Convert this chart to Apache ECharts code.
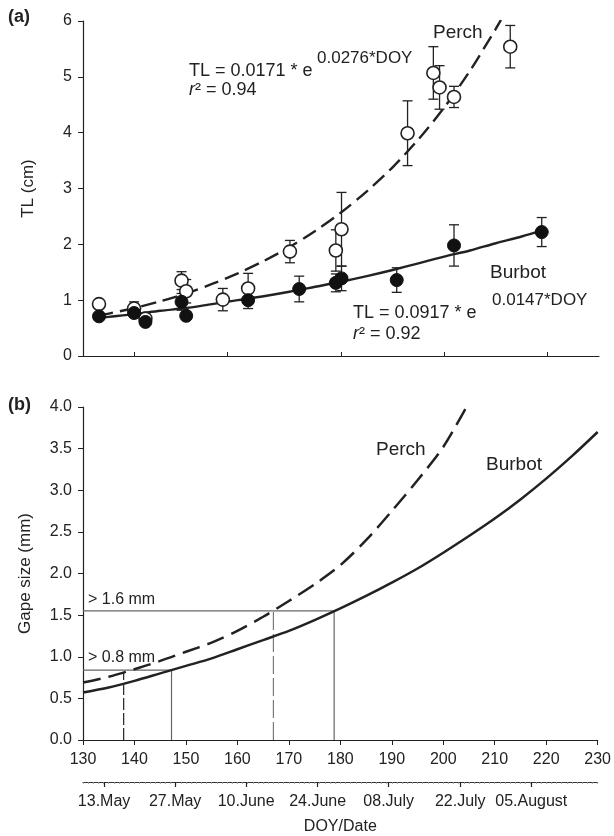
<!DOCTYPE html>
<html>
<head>
<meta charset="utf-8">
<script src="https://cdn.jsdelivr.net/npm/echarts@6/dist/echarts.min.js"></script>
<style>
  html, body { margin: 0; padding: 0; background: #fff; }
  #chart { width: 614px; height: 836px; }
</style>
</head>
<body>
<div id="chart"></div>
<script>
// panel (a): measured TL of juveniles (mean and error)
var perchDoy = [133.1, 139.9, 142.1, 149.1, 150.0, 157.1, 162.0, 170.1, 179.0, 180.1, 192.9, 197.9, 199.1, 201.9, 212.8];
var perchTL  = [0.93, 0.85, 0.67, 1.35, 1.16, 1.01, 1.21, 1.87, 1.89, 2.27, 3.99, 5.07, 4.81, 4.64, 5.54];
var perchErr = [0.05, 0.12, 0.07, 0.16, 0.21, 0.20, 0.27, 0.20, 0.37, 0.66, 0.58, 0.47, 0.39, 0.19, 0.38];

var burbotDoy = [133.1, 139.9, 142.1, 149.1, 150.0, 162.0, 171.9, 179.0, 180.1, 190.8, 201.9, 218.9];
var burbotTL  = [0.71, 0.77, 0.61, 0.97, 0.72, 1.00, 1.20, 1.31, 1.39, 1.36, 1.98, 2.22];
var burbotErr = [0.05, 0.07, 0.06, 0.15, 0.06, 0.15, 0.23, 0.16, 0.22, 0.22, 0.37, 0.26];

// panel (a): fitted curves
var perchFitDoy = [133, 135, 140, 145, 150, 155, 160, 165, 170, 175, 180, 185, 190, 195, 200, 205, 210, 211];
var perchFitTL  = [0.72, 0.76, 0.86, 0.98, 1.12, 1.29, 1.48, 1.70, 1.95, 2.24, 2.57, 2.95, 3.38, 3.88, 4.45, 5.11, 5.86, 6.02];
var burbotFitDoy = [133, 135, 140, 145, 150, 155, 160, 165, 170, 175, 180, 185, 190, 195, 200, 205, 210, 215, 219];
var burbotFitTL  = [0.68, 0.70, 0.75, 0.81, 0.86, 0.93, 1.00, 1.07, 1.15, 1.24, 1.33, 1.43, 1.54, 1.66, 1.78, 1.89, 2.02, 2.14, 2.25];

// panel (b): gape size curves
var perchGapeDoy = [130, 135, 140, 145, 150, 155, 160, 165, 170, 175, 180, 185, 190, 195, 200, 204.5];
var perchGape    = [0.69, 0.76, 0.85, 0.95, 1.06, 1.17, 1.31, 1.48, 1.67, 1.87, 2.10, 2.40, 2.75, 3.12, 3.52, 4.00];
var burbotGapeDoy = [130, 135, 140, 145, 150, 155, 160, 165, 170, 175, 180, 185, 190, 195, 200, 205, 210, 215, 220, 225, 230];
var burbotGape    = [0.57, 0.63, 0.71, 0.80, 0.89, 0.98, 1.09, 1.20, 1.31, 1.44, 1.58, 1.73, 1.89, 2.06, 2.25, 2.45, 2.66, 2.89, 3.14, 3.41, 3.70];

// prey size limits and the days each species reaches them
var gapeLimits = [0.84, 1.55];
var perchLimitDoy = [137.9, 167.0];
var burbotLimitDoy = [147.2, 178.8];

// tick labels
var topTicks = [140, 158, 180, 200, 220];
var dateTicks = [134.1, 147.9, 161.7, 175.6, 189.4, 203.3, 217.1];
var dateLabels = ['13.May', '27.May', '10.June', '24.June', '08.July', '22.July', '05.August'];

function zip(xs, ys) {
  var out = [];
  for (var i = 0; i < xs.length; i++) out.push([xs[i], ys[i]]);
  return out;
}
function errData(xs, ys, es) {
  var out = [];
  for (var i = 0; i < xs.length; i++) out.push([xs[i], ys[i], ys[i] - es[i], ys[i] + es[i]]);
  return out;
}
function renderErr(params, api) {
  var lo = api.coord([api.value(0), api.value(2)]);
  var hi = api.coord([api.value(0), api.value(3)]);
  var w = 5;
  var st = { stroke: '#222', lineWidth: 1.3 };
  return {
    type: 'group',
    children: [
      { type: 'line', shape: { x1: lo[0], y1: lo[1], x2: hi[0], y2: hi[1] }, style: st },
      { type: 'line', shape: { x1: lo[0] - w, y1: lo[1], x2: lo[0] + w, y2: lo[1] }, style: st },
      { type: 'line', shape: { x1: hi[0] - w, y1: hi[1], x2: hi[0] + w, y2: hi[1] }, style: st }
    ]
  };
}
function refLine(name, pts, color, type) {
  return {
    name: name, type: 'line', xAxisIndex: 1, yAxisIndex: 1,
    data: pts, symbol: 'none', silent: true, z: 1,
    lineStyle: { color: color, width: 1.2, type: type }
  };
}

var FONT = '"Liberation Sans", Arial, sans-serif';
var ink = '#222';
var chart = echarts.init(document.getElementById('chart'));

var axisBase = {
  axisLine: { lineStyle: { color: ink, width: 1.2 } },
  splitLine: { show: false },
  axisLabel: { color: ink, fontSize: 16, fontFamily: FONT }
};

var series = [
  // (a) fitted curves
  { name: 'Perch fit', type: 'line', xAxisIndex: 0, yAxisIndex: 0, data: zip(perchFitDoy, perchFitTL),
    symbol: 'none', smooth: 0.3, z: 1, lineStyle: { color: ink, width: 2.4, type: [15, 7] } },
  { name: 'Burbot fit', type: 'line', xAxisIndex: 0, yAxisIndex: 0, data: zip(burbotFitDoy, burbotFitTL),
    symbol: 'none', smooth: 0.3, z: 1, lineStyle: { color: ink, width: 2.4 } },
  // (a) error bars
  { type: 'custom', xAxisIndex: 0, yAxisIndex: 0, renderItem: renderErr, data: errData(perchDoy, perchTL, perchErr), z: 2 },
  { type: 'custom', xAxisIndex: 0, yAxisIndex: 0, renderItem: renderErr, data: errData(burbotDoy, burbotTL, burbotErr), z: 2 },
  // (a) points
  { name: 'Perch', type: 'scatter', xAxisIndex: 0, yAxisIndex: 0, data: zip(perchDoy, perchTL),
    symbol: 'circle', symbolSize: 13, z: 3,
    itemStyle: { color: '#fff', borderColor: ink, borderWidth: 1.6, opacity: 1 } },
  { name: 'Burbot', type: 'scatter', xAxisIndex: 0, yAxisIndex: 0, data: zip(burbotDoy, burbotTL),
    symbol: 'circle', symbolSize: 13, z: 4,
    itemStyle: { color: '#111', borderColor: '#111', borderWidth: 1, opacity: 1 } },
  // (b) limit lines
  refLine('upper limit', [[130, gapeLimits[1]], [burbotLimitDoy[1], gapeLimits[1]]], '#666', 'solid'),
  refLine('lower limit', [[130, gapeLimits[0]], [burbotLimitDoy[0], gapeLimits[0]]], '#666', 'solid'),
  refLine('perch lower', [[perchLimitDoy[0], 0], [perchLimitDoy[0], gapeLimits[0] - 0.03]], '#222', [12, 3]),
  refLine('burbot lower', [[burbotLimitDoy[0], 0], [burbotLimitDoy[0], gapeLimits[0]]], '#666', 'solid'),
  refLine('perch upper', [[perchLimitDoy[1], 0], [perchLimitDoy[1], gapeLimits[1]]], '#777', [18, 4]),
  refLine('burbot upper', [[burbotLimitDoy[1], 0], [burbotLimitDoy[1], gapeLimits[1]]], '#666', 'solid'),
  // (b) gape curves
  { name: 'Perch gape', type: 'line', xAxisIndex: 1, yAxisIndex: 1, data: zip(perchGapeDoy, perchGape),
    symbol: 'none', smooth: 0.3, z: 2, lineStyle: { color: ink, width: 2.5, type: [18, 8] } },
  { name: 'Burbot gape', type: 'line', xAxisIndex: 1, yAxisIndex: 1, data: zip(burbotGapeDoy, burbotGape),
    symbol: 'none', smooth: 0.3, z: 2, lineStyle: { color: ink, width: 2.5 } }
];

var txt = function (t, x, y, size, extra) {
  var s = { text: t, x: x, y: y, fill: ink, font: size + 'px ' + FONT, verticalAlign: 'middle', align: 'left' };
  for (var k in extra) s[k] = extra[k];
  return { type: 'text', style: s, z: 10 };
};
var r2 = function (val, x, y) {
  return txt('{i|r}{n|² = ' + val + '}', x, y, 18, {
    rich: { i: { fontStyle: 'italic', fontSize: 18, fontFamily: FONT, fill: ink },
            n: { fontSize: 18, fontFamily: FONT, fill: ink } }
  });
};

var option = {
  animation: false,
  backgroundColor: '#fff',
  grid: [
    { left: 83, top: 21, width: 516, height: 335 },
    { left: 83, top: 407, width: 516, height: 333 }
  ],
  xAxis: [
    Object.assign({}, axisBase, {
      type: 'value', gridIndex: 0, min: 130, max: 230,
      axisTick: { inside: true, length: 4, customValues: topTicks, lineStyle: { color: ink } },
      axisLabel: { show: false }
    }),
    Object.assign({}, axisBase, {
      type: 'value', gridIndex: 1, min: 130, max: 230, interval: 10,
      axisTick: { length: 5, lineStyle: { color: ink } },
      axisLabel: { color: ink, fontSize: 16, fontFamily: FONT, margin: 12 }
    }),
    // minor day ticks of the date axis
    {
      type: 'value', gridIndex: 1, min: 130, max: 230, interval: 1, position: 'bottom', offset: 42,
      axisLine: { lineStyle: { color: '#333', width: 1.2 } },
      axisTick: { length: 2, lineStyle: { color: '#999', width: 0.8 } },
      axisLabel: { show: false }, splitLine: { show: false }
    },
    // date axis
    {
      type: 'value', gridIndex: 1, min: 130, max: 230, position: 'bottom', offset: 42,
      axisLine: { show: false }, splitLine: { show: false },
      axisTick: { length: 5, customValues: dateTicks, lineStyle: { color: ink, width: 1.2 } },
      axisLabel: {
        customValues: dateTicks, color: ink, fontSize: 16, fontFamily: FONT, margin: 12,
        formatter: function (v) { return dateLabels[dateTicks.indexOf(v)]; }
      },
      name: 'DOY/Date', nameLocation: 'middle', nameGap: 37,
      nameTextStyle: { color: ink, fontSize: 16, fontFamily: FONT }
    }
  ],
  yAxis: [
    Object.assign({}, axisBase, {
      type: 'value', gridIndex: 0, min: 0, max: 6, interval: 1,
      axisTick: { length: 5, lineStyle: { color: ink } },
      axisLabel: { color: ink, fontSize: 16, fontFamily: FONT, margin: 11 },
      name: 'TL (cm)', nameLocation: 'middle', nameGap: 46,
      nameTextStyle: { color: ink, fontSize: 17, fontFamily: FONT }
    }),
    Object.assign({}, axisBase, {
      type: 'value', gridIndex: 1, min: 0, max: 4, interval: 0.5,
      axisTick: { length: 5, lineStyle: { color: ink } },
      axisLabel: { color: ink, fontSize: 16, fontFamily: FONT, margin: 11,
                   formatter: function (v) { return v.toFixed(1); } },
      name: 'Gape size (mm)', nameLocation: 'middle', nameGap: 49,
      nameTextStyle: { color: ink, fontSize: 17, fontFamily: FONT }
    })
  ],
  graphic: [
    txt('(a)', 8, 17, 18, { font: 'bold 18px ' + FONT }),
    txt('(b)', 8, 405, 18, { font: 'bold 18px ' + FONT }),
    txt('TL = 0.0171 * e', 189, 71, 18),
    txt('0.0276*DOY', 317, 58, 17),
    r2('0.94', 189, 90),
    txt('TL = 0.0917 * e', 353, 313, 18),
    txt('0.0147*DOY', 492, 300, 17),
    r2('0.92', 353, 334),
    txt('Perch', 433, 33, 19),
    txt('Burbot', 490, 273, 19),
    txt('> 1.6 mm', 88, 600, 16),
    txt('> 0.8 mm', 88, 658, 16),
    txt('Perch', 376, 450, 19),
    txt('Burbot', 486, 465, 19)
  ],
  series: series
};
chart.setOption(option);
</script>
</body>
</html>
